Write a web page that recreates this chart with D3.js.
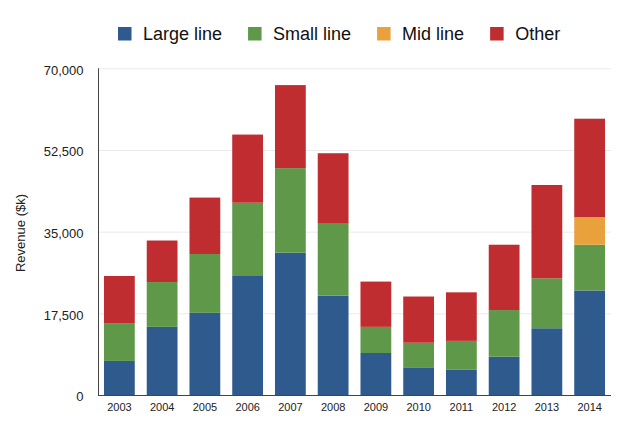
<!DOCTYPE html>
<html>
<head>
<meta charset="utf-8">
<script src="https://cdn.jsdelivr.net/npm/d3@7"></script>
<style>
  html, body { margin: 0; padding: 0; background: #fff; }
  svg { display: block; font-family: "Liberation Sans", Arial, Helvetica, sans-serif; }
</style>
</head>
<body>
<svg id="chart" width="640" height="435"></svg>
<script>
const years = ["2003","2004","2005","2006","2007","2008","2009","2010","2011","2012","2013","2014"];
const largeLine = [7300, 14600, 17600, 25500, 30500, 21300, 9000, 5800, 5400, 8200, 14300, 22400];
const smallLine = [8100, 9600, 12600, 15700, 18100, 15400, 5600, 5400, 6200, 10000, 10700, 9800];
const midLine   = [0, 0, 0, 0, 0, 0, 0, 0, 0, 0, 0, 5900];
const other     = [10100, 8900, 12100, 14600, 17800, 15100, 9700, 9900, 10400, 14000, 20000, 21100];
const seriesNames = ["Large line", "Small line", "Mid line", "Other"];
const seriesKeys = ["large", "small", "mid", "other"];
const colors = ["#2e5a8d", "#5e9848", "#e9a23b", "#bf2d31"];
const yTicks = [0, 17500, 35000, 52500, 70000];

const rows = years.map((yr, i) => ({
  year: yr, large: largeLine[i], small: smallLine[i], mid: midLine[i], other: other[i]
}));

const svg = d3.select("#chart");
const mLeft = 98, mRight = 611, mTop = 68.3, mBottom = 395;

const x = d3.scaleBand().domain(years).range([mLeft, mRight]).paddingInner(0.28).paddingOuter(0.14);
const y = d3.scaleLinear().domain([0, 70000]).range([mBottom, mTop]);
const color = d3.scaleOrdinal().domain(seriesKeys).range(colors);

// gridlines
svg.append("g").selectAll("line").data(yTicks.filter(d => d > 0)).join("line")
  .attr("x1", mLeft).attr("x2", mRight)
  .attr("y1", d => y(d) + 0.5).attr("y2", d => y(d) + 0.5)
  .attr("stroke", "#ebebeb").attr("stroke-width", 1);

// bars
const stack = d3.stack().keys(seriesKeys);
const stacked = stack(rows);
svg.append("g").selectAll("g").data(stacked).join("g")
  .attr("fill", d => color(d.key))
  .selectAll("rect").data(d => d.filter(s => s[1] - s[0] > 0)).join("rect")
  .attr("x", d => x(d.data.year))
  .attr("width", x.bandwidth())
  .attr("y", d => y(d[1]))
  .attr("height", d => y(d[0]) - y(d[1]));

// y axis
const yAxis = d3.axisLeft(y).tickValues(yTicks).tickSize(0).tickPadding(15)
  .tickFormat(d3.format(","));
const gy = svg.append("g").attr("transform", `translate(${mLeft + 0.5},0)`).call(yAxis);
gy.select(".domain").attr("stroke", "#444").attr("d", `M0,${mTop}V${mBottom}`);
gy.selectAll("text").attr("font-size", 13).attr("fill", "#222").attr("dy", "0.45em")
  .attr("font-family", "Liberation Sans, Arial, sans-serif");

// x axis
const xAxis = d3.axisBottom(x).tickSize(0).tickPadding(8);
const gx = svg.append("g").attr("transform", `translate(0,${mBottom + 0.5})`).call(xAxis);
gx.select(".domain").attr("stroke", "#444").attr("d", `M${mLeft},0H${mRight}`);
gx.selectAll("text").attr("font-size", 11).attr("fill", "#222")
  .attr("font-family", "Liberation Sans, Arial, sans-serif");

// y label
svg.append("text")
  .attr("transform", `translate(25,233) rotate(-90)`)
  .attr("text-anchor", "middle")
  .attr("font-size", 13).attr("fill", "#222")
  .text("Revenue ($k)");

// legend
const legend = svg.append("g");
let lx = 118;
seriesNames.forEach((name, i) => {
  legend.append("rect").attr("x", lx).attr("y", 27).attr("width", 13.5).attr("height", 13.5)
    .attr("fill", colors[i]);
  const t = legend.append("text").attr("x", lx + 25).attr("y", 40)
    .attr("font-size", 18).attr("fill", "#111").text(name);
  lx += 25 + t.node().getComputedTextLength() + 26;
});
</script>
</body>
</html>
